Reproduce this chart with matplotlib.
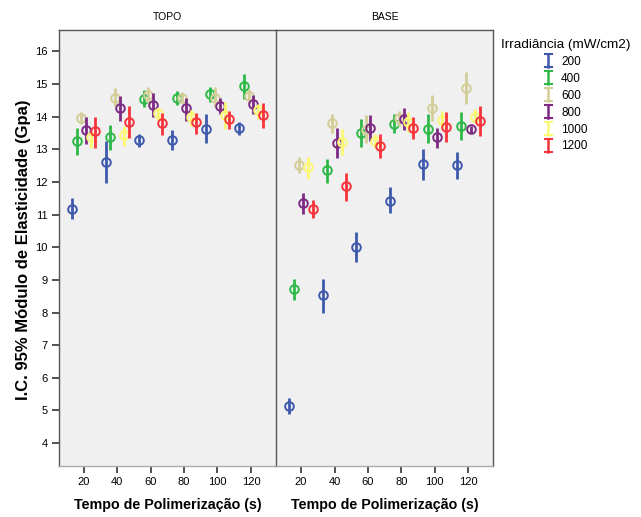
import matplotlib
matplotlib.use("Agg")
import matplotlib.pyplot as plt
from matplotlib.legend_handler import HandlerBase
from matplotlib.lines import Line2D
import numpy as np

plt.rcParams['font.family'] = ['Liberation Sans', 'DejaVu Sans']

times = [20, 40, 60, 80, 100, 120]
irrad = ['200', '400', '600', '800', '1000', '1200']
colors = ['#3E58AC', '#2EB848', '#D3CE97', '#7C2A84', '#FBF872', '#F7333B']
panels = ['TOPO', 'BASE']

# TOPO: mean, lower, upper per irradiance (rows) x time (cols)
topo_mean = [
    [11.16, 12.62, 13.28, 13.28, 13.63, 13.64],
    [13.24, 13.37, 14.55, 14.57, 14.68, 14.94],
    [13.95, 14.58, 14.66, 14.58, 14.58, 14.63],
    [13.59, 14.26, 14.35, 14.25, 14.33, 14.38],
    [13.36, 13.43, 14.10, 14.00, 14.05, 14.20],
    [13.56, 13.84, 13.79, 13.82, 13.92, 14.04],
]
topo_low = [
    [10.87, 11.96, 13.07, 12.98, 13.18, 13.43],
    [12.82, 12.98, 14.28, 14.35, 14.45, 14.55],
    [13.77, 14.31, 14.41, 14.40, 14.28, 14.41],
    [13.17, 13.87, 14.00, 13.87, 14.07, 14.09],
    [13.05, 13.10, 13.90, 13.71, 13.61, 13.92],
    [13.05, 13.33, 13.44, 13.48, 13.63, 13.66],
]
topo_high = [
    [11.50, 13.25, 13.48, 13.58, 14.07, 13.84],
    [13.64, 13.73, 14.81, 14.79, 14.91, 15.30],
    [14.15, 14.86, 14.92, 14.76, 14.89, 14.84],
    [13.99, 14.63, 14.71, 14.58, 14.58, 14.65],
    [13.49, 13.71, 14.27, 14.20, 14.45, 14.38],
    [14.00, 14.33, 14.10, 14.10, 14.17, 14.41],
]
base_mean = [
    [5.14, 8.53, 10.01, 11.42, 12.54, 12.52],
    [8.71, 12.36, 13.51, 13.77, 13.63, 13.71],
    [12.51, 13.80, 13.60, 13.97, 14.26, 14.86],
    [11.35, 13.20, 13.64, 13.94, 13.36, 13.61],
    [12.44, 13.22, 13.25, 13.82, 13.90, 14.00],
    [11.18, 11.86, 13.10, 13.64, 13.68, 13.87],
]
base_low = [
    [4.89, 8.00, 9.55, 11.04, 12.06, 12.10],
    [8.39, 11.96, 13.08, 13.49, 13.18, 13.29],
    [12.27, 13.51, 13.18, 13.71, 13.87, 14.38],
    [11.01, 12.72, 13.25, 13.59, 13.05, 13.49],
    [12.10, 12.82, 13.05, 13.53, 13.61, 13.79],
    [10.88, 11.42, 12.72, 13.31, 13.22, 13.41],
]
base_high = [
    [5.38, 9.04, 10.47, 11.83, 13.02, 12.92],
    [9.04, 12.69, 13.94, 14.07, 14.07, 14.14],
    [12.75, 14.07, 14.04, 14.17, 14.65, 15.35],
    [11.67, 13.66, 14.04, 14.26, 13.64, 13.71],
    [12.75, 13.61, 13.46, 14.14, 14.17, 14.22],
    [11.45, 12.27, 13.46, 13.99, 14.14, 14.33],
]
offsets = [-7.0, -4.2, -1.4, 1.4, 4.2, 7.0]

data = {
    'TOPO': (topo_mean, topo_low, topo_high),
    'BASE': (base_mean, base_low, base_high),
}

W, H = 641, 517
fig = plt.figure(figsize=(W / 100, H / 100), dpi=100)

def fx(px):
    return px / W

def fy(py):
    return 1 - py / H

top, bot = 30, 466
axes = [
    fig.add_axes([fx(58.7), fy(bot), fx(276 - 58.7), fy(top) - fy(bot)]),
    fig.add_axes([fx(276), fy(bot), fx(493.3 - 276), fy(top) - fy(bot)]),
]

for ax, name in zip(axes, panels):
    mean, low, high = data[name]
    ax.set_facecolor('#F0F0F0')
    for i in range(len(irrad)):
        xs = np.array(times) + offsets[i]
        m = np.array(mean[i])
        lo = m - np.array(low[i])
        hi = np.array(high[i]) - m
        ax.errorbar(xs, m, yerr=[lo, hi], fmt='none', ecolor=colors[i],
                    elinewidth=2.0, capsize=0, zorder=2 + i)
        ax.plot(xs, m, 'o', mfc='none', mec=colors[i], mew=1.4, ms=6.2,
                zorder=2 + i)
    ax.set_xlim(5, 135)
    ax.set_ylim(3.3, 16.65)
    ax.set_xticks(times)
    ax.set_yticks(range(4, 17))
    ax.tick_params(axis='both', direction='out', length=5, width=1.2,
                   color='#333333', labelsize=8, pad=3)
    for s in ['top', 'left', 'right']:
        ax.spines[s].set_color('#555555')
        ax.spines[s].set_linewidth(1.0)
    ax.spines['bottom'].set_color('#AAAAAA')
    ax.spines['bottom'].set_linewidth(1.0)
    ax.set_xlabel('Tempo de Polimerização (s)', fontsize=10.3,
                  fontweight='bold', labelpad=8)
    ax.text(0.5, 1.0 + 13 / (bot - top), name, transform=ax.transAxes,
            ha='center', va='center', fontsize=7.5)

axes[0].set_ylabel('I.C. 95% Módulo de Elasticidade (Gpa)', fontsize=12,
                   fontweight='bold')
axes[0].yaxis.set_label_coords((31 - 58.7) / (276 - 58.7), 0.495)
axes[1].tick_params(axis='y', left=False, labelleft=False)
axes[0].spines['right'].set_visible(False)


class IHandler(HandlerBase):
    def __init__(self, color):
        super().__init__()
        self.color = color

    def create_artists(self, legend, orig_handle, xdescent, ydescent,
                       width, height, fontsize, trans):
        cx = width / 2 - xdescent
        y0 = -ydescent - 1.5
        y1 = height - ydescent + 1.5
        hw = 2.5
        lines = [
            Line2D([cx, cx], [y0, y1], color=self.color, lw=1.8),
            Line2D([cx - hw, cx + hw], [y0, y0], color=self.color, lw=1.5),
            Line2D([cx - hw, cx + hw], [y1, y1], color=self.color, lw=1.5),
        ]
        for ln in lines:
            ln.set_transform(trans)
        return lines


handles = [Line2D([], [], color=c) for c in colors]
hmap = {h: IHandler(c) for h, c in zip(handles, colors)}
leg = fig.legend(handles, irrad, handler_map=hmap, loc='upper left',
                 bbox_to_anchor=(fx(496), fy(34)), frameon=False,
                 title='Irradiância (mW/cm2)', title_fontsize=9.7,
                 fontsize=8.5, handlelength=0.8, handletextpad=0.7,
                 labelspacing=0.42, borderaxespad=0)

fig.savefig('out.png', dpi=100)
